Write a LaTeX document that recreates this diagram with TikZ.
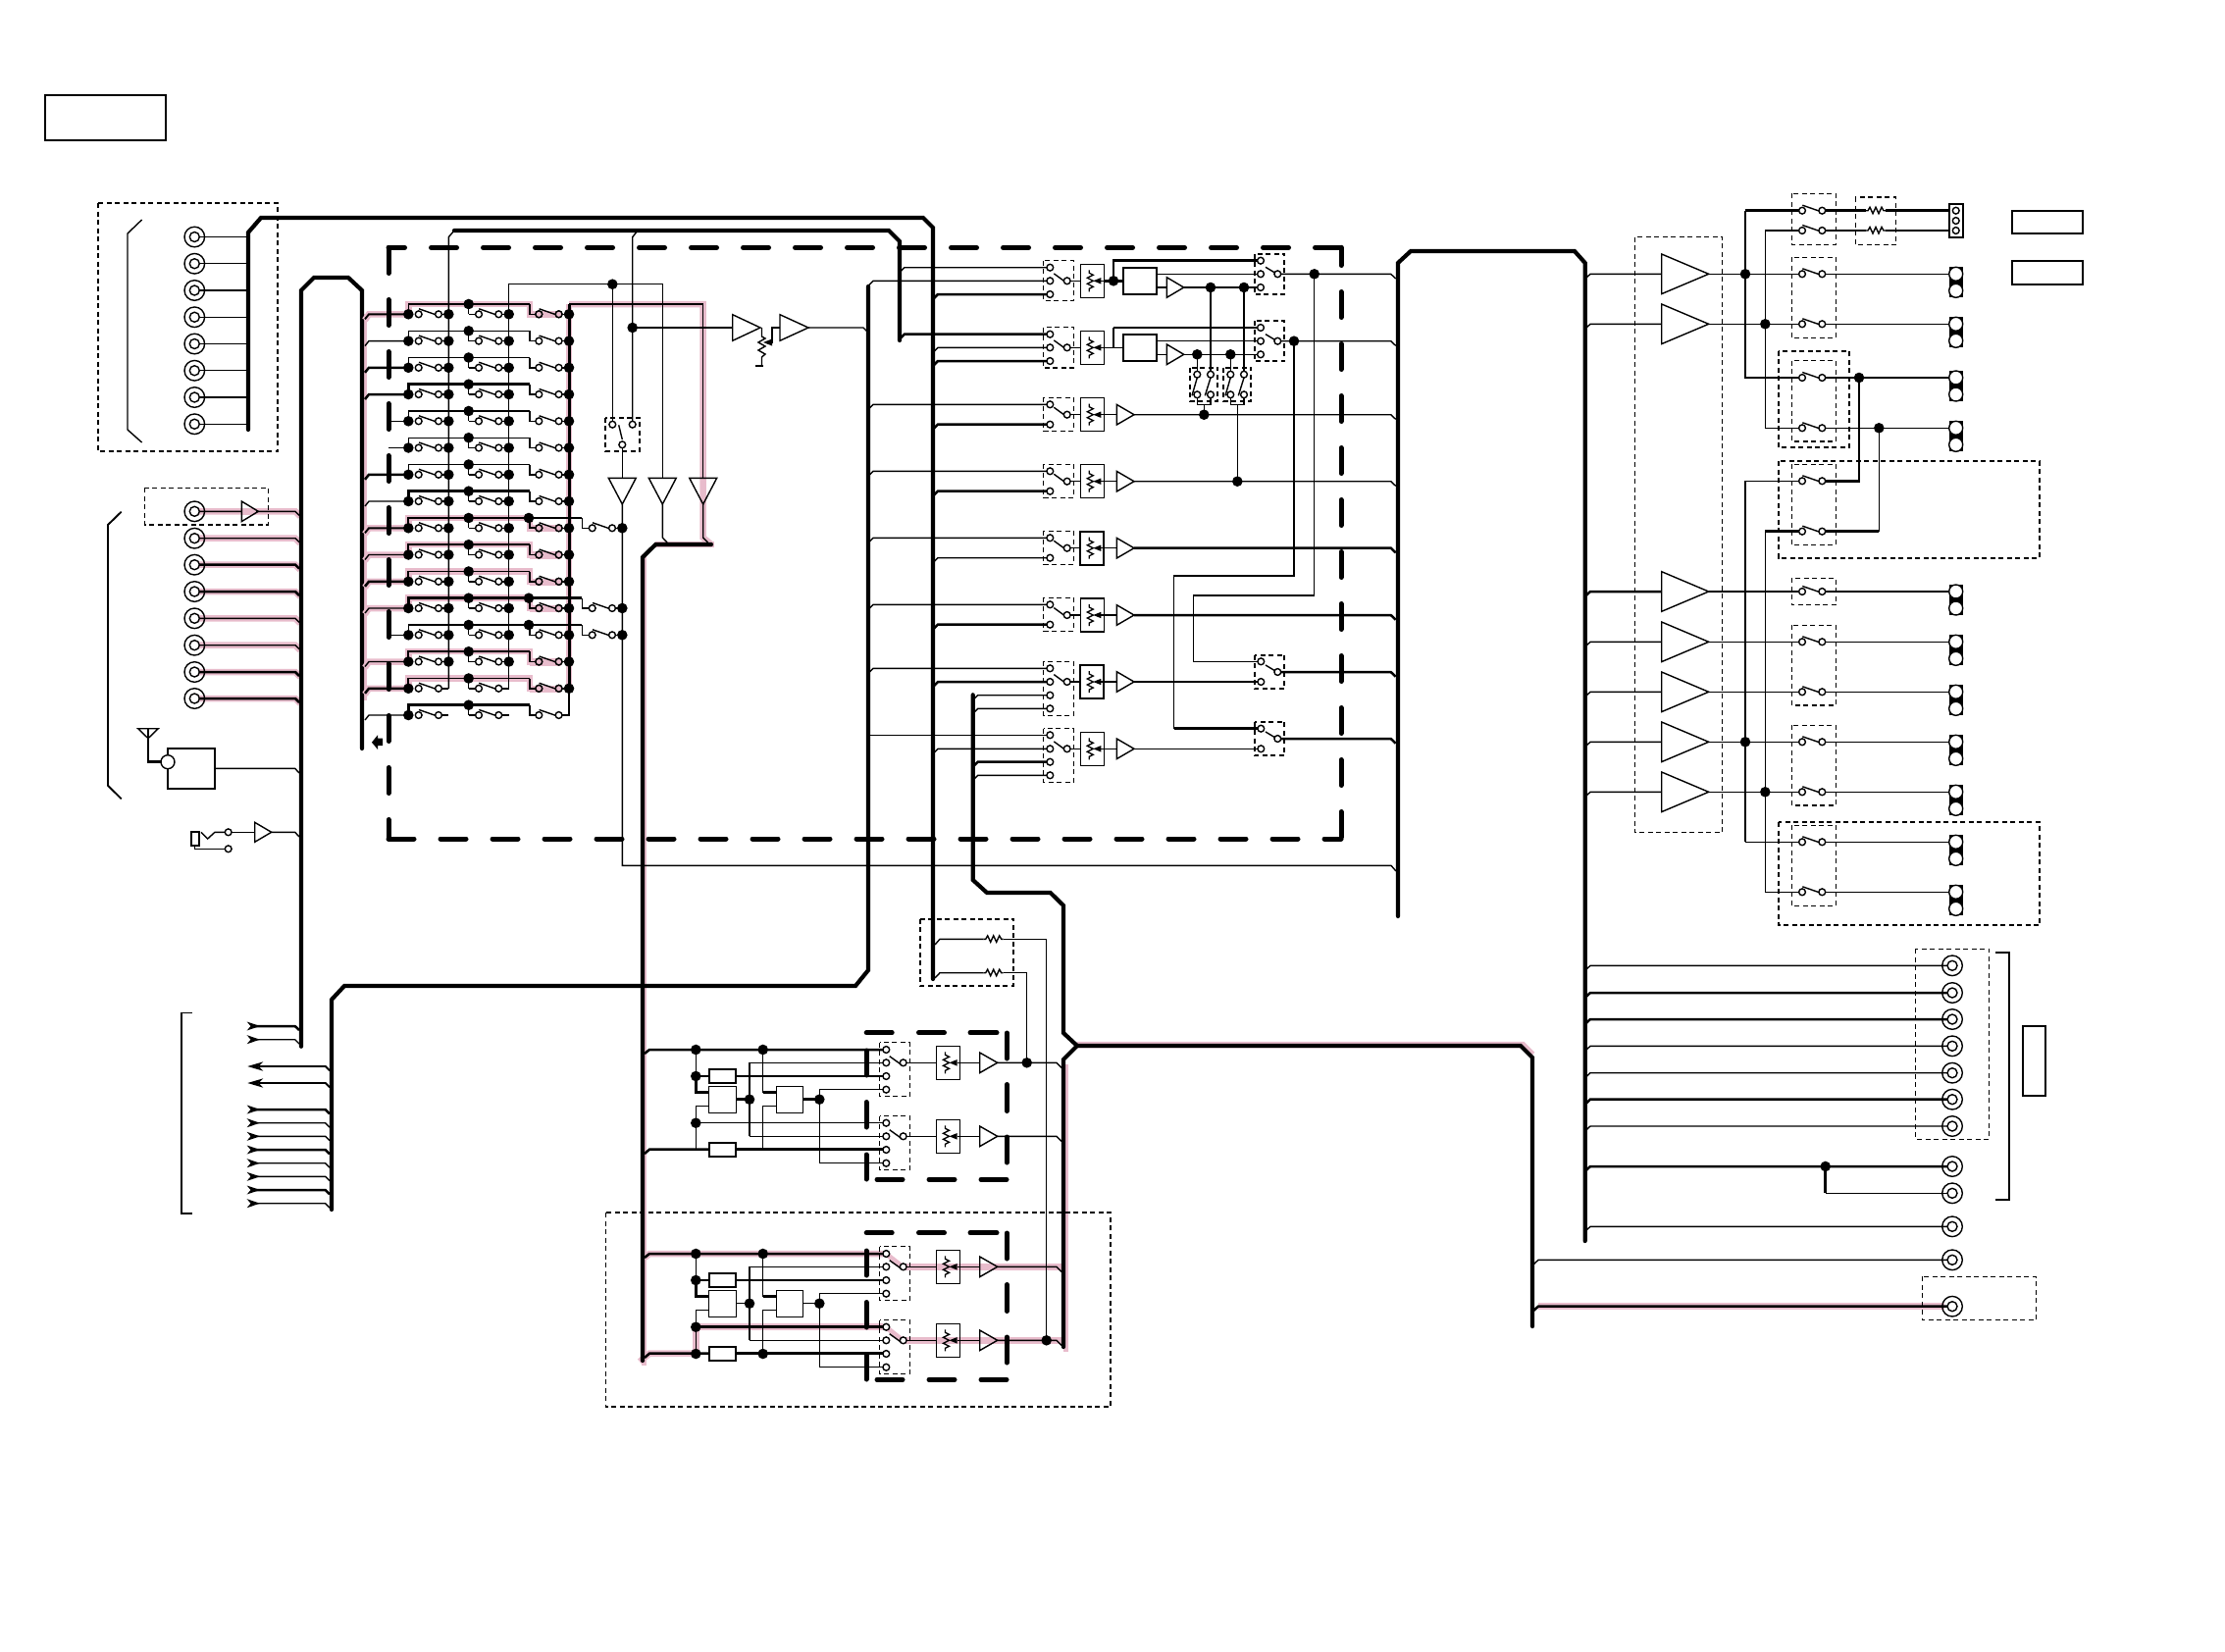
\documentclass[tikz,border=0pt]{standalone}
\definecolor{pk}{RGB}{232,188,204}
\tikzset{
 tw/.style={line width=1.4pt,line join=miter},
 mw/.style={line width=1.9pt,line join=miter},
 kw/.style={line width=2.5pt,line join=miter},
 buspath/.style={line width=4.2pt,line join=miter,line cap=round},
 heavy/.style={line width=5pt,line cap=round,line join=round},
 pkb/.style={draw=pk,line width=6.5pt,line join=miter},
 dbx/.style={line width=1.3pt,dash pattern=on 5pt off 3.5pt},
 dbk/.style={line width=1.7pt,dash pattern=on 5pt off 3.5pt}
}
\newcommand\oc[2]{\draw[tw,fill=white] (#1,#2) circle (3.4pt);}
\newcommand\ocp[2]{\draw[tw,fill=pk] (#1,#2) circle (3.4pt);}
\newcommand\dt[2]{\fill (#1,#2) circle (5.3pt);}
\newcommand\jack[2]{\draw[tw] (#1,#2) circle (10.3pt);\draw[tw,fill=white] (#1,#2) circle (5pt);}
\newcommand\sw[2]{\draw[tw] (#1,#2) ++(0.3,-5.5) -- ++(16.7,5.8);\oc{#1}{#2}\oc{#1+20.3}{#2}}
\newcommand\com[2]{\draw[tw] (#1,#2) ++(-13.4,-7.4) -- ++(10.7,7.8);\oc{#1}{#2}}
\newcommand\rtri[4]{\draw[tw] (#1,{#3-#4})--(#1,{#3+#4})--(#2,#3)--cycle;}
\newcommand\dtri[3]{\draw[tw] ({#1-14},#2)--({#1+14},#2)--(#1,#3)--cycle;}
\newcommand\pot[3][1.5pt]{\begin{scope}[shift={(#2,#3)}]\draw[line width=#1] (-12,-17) rectangle (12,17);\draw[line width=1.3pt] (-3,-11)--(-3,-8)--(1,-6)--(-5,-3)--(1,0)--(-5,3)--(1,6)--(-3,8)--(-3,11);\fill (1,0)--(9,-3.2)--(9,3.2)--cycle;\draw[tw] (9,0)--(12,0);\end{scope}}
\newcommand\res[2]{\draw[tw] (#1,#2)--++(2,0)--++(2,-3.5)--++(3,6.5)--++(3,-6.5)--++(3,6.5)--++(3,-6.5)--++(2,3.5)--++(2,0);}
\newcommand\stubr[4]{\draw[#3] (#1,{#2+5})--({#1+5},#2)--(#4,#2);}
\newcommand\conn[1]{\fill ({1986.7},{#1-7}) rectangle (2000.7,{#1+24});\draw[tw,fill=white] (1993.7,#1) circle (7pt);\draw[tw,fill=white] (1993.7,{#1+17}) circle (7pt);}
\newcommand\arr[1]{\fill (251.7,{#1-4.5})--(265,#1)--(251.7,{#1+4.5})--(255.5,#1)--cycle;}
\newcommand\arl[1]{\fill (252.3,#1)--(268.3,{#1-4.7})--(263.5,#1)--(268.3,{#1+4.7})--cycle;}
\newcommand\hseg[3]{\draw[heavy] (#1,#3)--(#2,#3);}
\newcommand\vseg[3]{\draw[heavy] (#3,#1)--(#3,#2);}
% lower mixer block: #1 dy, #2 style of outputs, #3 style of fourth row
\newcommand\lowb[3]{\begin{scope}[shift={(0,#1)}]
 \draw[kw] (657,1074)--(662,1070)--(899.9,1070);
 \draw[tw] (709.3,1070)--(709.3,1097);
 \draw[kw] (709.3,1097)--(722.7,1097);
 \draw[kw] (750.3,1097)--(899.9,1097);
 \draw[kw] (709.3,1097)--(709.3,1113.7)--(722.7,1113.7);
 \draw[tw] (722.7,1127.3)--(709.3,1127.3)--(709.3,1171.7);
 \draw[#3] (709.3,1144.7)--(899.9,1144.7);
 \draw[kw] (657,1176)--(662,1171.7)--(722.7,1171.7);
 \draw[kw] (750.3,1171.7)--(899.9,1171.7);
 \draw[#2] (750.3,1120.7)--(764,1120.7);
 \draw[kw] (764,1083.3)--(764,1158.3);
 \draw[tw] (899.9,1083.3)--(764,1083.3);\draw[tw] (899.9,1158.3)--(764,1158.3);
 \draw[tw] (777.7,1070)--(777.7,1113.7);\draw[kw] (777.7,1113.7)--(791.3,1113.7);
 \draw[tw] (791.3,1127.3)--(777.7,1127.3)--(777.7,1171.7);
 \draw[#2] (818.3,1120.7)--(835.3,1120.7);
 \draw[tw] (899.9,1110.7)--(835.3,1110.7)--(835.3,1185.7)--(899.9,1185.7);
 \draw[line width=1.9pt,fill=white] (722.7,1090) rectangle (750.3,1104);
 \draw[line width=1.9pt,fill=white] (722.7,1165.3) rectangle (750.3,1179.3);
 \draw[line width=1.5pt,fill=white] (722.7,1107.3) rectangle (750.3,1134.3);
 \draw[line width=1.5pt,fill=white] (791.3,1107.3) rectangle (818.3,1134.3);
 \dt{709.3}{1070}\dt{777.7}{1070}\dt{709.3}{1097}\dt{709.3}{1144.7}\dt{764}{1120.7}\dt{835.3}{1120.7}
 \draw[dbx] (896.7,1062.7) rectangle (927.3,1117.3);
 \draw[dbx] (896.7,1137.7) rectangle (927.3,1192.7);
 \foreach \q in {1070,1083.3,1097,1110.7,1144.7,1158.3,1172,1185.7}{\oc{903.3}{\q}}
 \foreach \q in {1083.3,1158.3}{
  \draw[tw] (924.1,\q)--(954.5,\q);
  \draw[tw] (978.5,\q)--(998.7,\q);
  \pot{966.5}{\q}
  \rtri{998.7}{1016.7}{\q}{10.3}
  \draw[tw] (1016.7,\q)--(1077,\q)--(1082,{\q+5});
  \draw[tw] (906.7,{\q-6.6})--(918.3,{\q+1.7});\oc{920.7}{\q}
 }
\end{scope}}
\begin{document}
\begin{tikzpicture}[x=1pt,y=-1pt]
\useasboundingbox (0,0) rectangle (2268,1684);
\fill[white] (0,0) rectangle (2268,1684);
%% ---------- pink underlay
\foreach \q in {521.3,548.7,575.7,603,630.3,657.7,685,712}{\draw[pkb] (200,\q)--(301,\q)--(306,{\q+5});}
\draw[pkb] (371,320)--(371,714);
\draw[pkb] (580,310)--(580,702);
\draw[pkb] (580,310)--(716.7,310)--(716.7,548)--(725,555);
\draw[pkb] (668,555)--(728,555);
\draw[pk,line width=4.5pt] (656.5,565)--(656.5,1392);
\draw[pk,line width=5pt] (1086,1085)--(1086,1378);
\draw[pkb] (1098,1065)--(1552,1065)--(1562,1075);
\draw[pkb] (1568,1331.7)--(1982,1331.7);
\begin{scope}[shift={(0,208)}]
 \draw[pkb] (657,1074)--(662,1070)--(900,1070);
 \draw[pkb] (922,1083.3)--(1082,1083.3);
 \draw[pkb] (709.3,1144.7)--(900,1144.7);
 \draw[pkb] (709.3,1144.7)--(709.3,1171.7);
 \draw[pkb] (652,1180)--(662,1171.7)--(709.3,1171.7);
 \draw[pkb] (922,1158.3)--(1084,1158.3);
 \draw[pk,line width=5pt] (903,1070)--(920,1083.3);
 \draw[pk,line width=5pt] (903,1144.7)--(920,1158.3);
\end{scope}
%% ---------- buses
\draw[buspath] (253,438)--(253,237)--(266,222)--(941,222)--(951,232)--(951,998);
\draw[buspath] (463,235)--(906,235)--(917,246)--(917,347);
\draw[buspath] (307,1066.7)--(307,296)--(320,283)--(355,283)--(369,296)--(369,763);
\draw[buspath] (885,292)--(885,989)--(872,1005)--(351,1005)--(338,1019)--(338,1233);
\draw[buspath] (725,555)--(668.3,555)--(655,568)--(655,1387);
\draw[buspath] (991.7,708.3)--(991.7,897)--(1006,910)--(1070.7,910)--(1084,923)--(1084,1053)--(1098,1066)--(1084,1080)--(1084,1373);
\draw[buspath] (1098,1066)--(1550,1066)--(1562,1078)--(1562,1352);
\draw[buspath] (1425,934)--(1425,268)--(1438,256)--(1605,256)--(1615.7,268)--(1615.7,1265);
%% ---------- left frame items
\draw[line width=1.5pt] (46,97) rectangle (169,143);
\draw[dbx] (100,207) rectangle (283,460);
\draw[tw] (144.6,224)--(130,238)--(130,438)--(144.6,451);
\foreach \i in {0,...,7}{\draw[tw] (198,{241.5+27.25*\i})--(253,{241.5+27.25*\i});\jack{198.3}{241.5+27.25*\i}}
\draw[mw] (123.7,521.7)--(110,535)--(110,800.7)--(123.7,814.3);
\foreach \q/\w in {521.3/tw,548.7/tw,575.7/kw,603/kw,630.3/tw,657.7/tw,685/kw,712/kw}{\draw[\w] (198,\q)--(301,\q)--(305,{\q+4});\jack{198.3}{\q}}
\draw[pk,line width=6.5pt] (247,521.3)--(261,521.3);
\rtri{246.3}{263.3}{521.3}{10.3}
\draw[dbx] (147.3,497.3) rectangle (273.3,535);
% antenna and receiver
\draw[tw] (140.7,742.7)--(161.3,742.7)--(151,752.7)--cycle;
\draw[kw] (151,742.7)--(151,776.7)--(165,776.7);
\draw[line width=1.8pt] (171.3,763.3) rectangle (219.3,804);
\draw[tw,fill=white] (171,776.7) circle (7pt);
\draw[tw] (219.3,783.3)--(300.7,783.3)--(305,788);
% mic jack
\draw[line width=1.7pt] (194.7,848.3) rectangle (202.7,861.7);
\draw[tw] (205,848.3)--(211.7,855)--(219,848.3)--(229.3,848.3);
\draw[tw] (198.3,861.7)--(198.3,865.3)--(229.3,865.3);
\oc{232.7}{848.3}\oc{232.7}{865.3}
\draw[tw] (236,848.3)--(259.7,848.3);
\rtri{259.7}{276.7}{848.3}{10}
\draw[tw] (276.7,848.3)--(300.7,848.3)--(305,853);
% arrows bottom left
\draw[line width=1.6pt] (195.7,1032.3)--(185,1032.3)--(185,1236.7)--(195.7,1236.7);
\draw[kw] (260,1046)--(300.7,1046)--(305,1050);
\draw[tw] (260,1059.7)--(300.7,1059.7)--(305,1064);
\arr{1046}\arr{1059.7}
\foreach \q in {1087,1104}{\draw[mw] (264,\q)--(331.7,\q)--(336,{\q+4.3});\arl{\q}}
\foreach \q/\w in {1131/kw,1144.7/tw,1158.3/tw,1172/kw,1185.7/tw,1199.3/tw,1213/kw,1226.7/tw}{\draw[\w] (260,\q)--(331.7,\q)--(336,{\q+4.3});\arr{\q}}
%% ---------- matrix
\foreach \y/\st/\w/\p/\u/\ex/\ds in {
 320.3/1/mw/1/tw/0/3,347.6/1/tw/0/tw/0/3,374.8/1/kw/0/tw/0/3,402/1/kw/0/kw/0/3,
 429.3/0/tw/0/tw/0/3,456.5/0/tw/0/tw/0/3,483.8/1/kw/0/tw/0/3,511/1/tw/0/kw/0/3,
 538.3/1/mw/1/mw/1/3,565.5/1/tw/1/mw/0/3,592.8/1/kw/1/mw/0/3,620/1/tw/1/kw/1/3,
 647.3/0/tw/0/tw/1/3,674.5/1/tw/1/mw/0/3,701.8/1/kw/1/mw/0/1,729/1/tw/0/kw/0/0}{
 \begin{scope}[shift={(0,\y)}]
  \ifnum\p=1
   \draw[pkb] (372,6)--(376,0)--(416.3,0);
   \draw[pkb] (416.3,0)--(416.3,-10.3)--(540,-10.3)--(540,0)--(570,0);
   \fill[pk] (540,-3) rectangle (572,4);
  \fi
  \ifnum\st=1
   \draw[\w] (372,5)--(376,0)--(416.3,0);
  \else
   \draw[\w] (396,0)--(416.3,0);
  \fi
  \draw[\u] (416.3,0)--(416.3,-10.3)--(540,-10.3);
  \draw[\u] (540,-10.3)--(540,0)--(549.3,0);
  \draw[tw] (477.7,-10.3)--(477.7,0);
  \draw[tw] (477.7,0)--(488,0);
  \ifnum\ex=1
   \draw[\u] (539,-10.3)--(593.3,-10.3);
   \draw[tw] (593.3,-10.3)--(593.3,0)--(603.7,0);
   \draw[tw] (624,0)--(634.3,0);
   \sw{603.7}{0}\dt{634.3}{0}\dt{539}{-10.3}
  \fi
  \draw[tw] (447,0)--(457.3,0);
  \draw[tw] (508.3,0)--(518.7,0);
  \draw[tw] (569.7,0)--(580,0);
  \dt{416.3}{0}\dt{477.7}{-10.3}
  \ifnum\ds>1 \dt{457.3}{0}\dt{518.7}{0}\fi
  \ifnum\ds>0 \dt{580}{0}\fi
  \sw{426.7}{0}\sw{488}{0}\sw{549.3}{0}
  \ifnum\p=1 \ocp{549.3}{0}\ocp{569.6}{0}\fi
 \end{scope}
}
\draw[tw] (457.3,701.8)--(457.3,241.7)--(463,235);
\draw[tw] (518.7,701.8)--(518.7,289.7)--(675.3,289.7)--(675.3,487.3);
\draw[mw] (580,310)--(716.7,310);\draw[tw] (716.7,310)--(716.7,487.3);
\draw[line width=3pt] (580,310)--(580,702);
\draw[tw] (580,702)--(580,729)--(573,729);
\draw[tw] (624.3,289.7)--(624.3,429.3);
\draw[tw] (644.7,429.3)--(644.7,241.7)--(650,235);
\draw[kw] (644.7,334)--(746.7,334);
\draw[tw] (675.3,514)--(675.3,548)--(680,553);
\draw[tw] (716.7,514)--(716.7,548)--(721.7,553);
\draw[tw] (634.3,456.7)--(634.3,487.3);
\draw[tw] (634.3,514)--(634.3,882.3)--(1418,882.3)--(1423,888);
\dt{624.3}{289.7}\dt{644.7}{334}
\draw[dbk] (617.3,425.7) rectangle (651.7,460);
\oc{624.3}{432.7}\oc{644.7}{432.7}\oc{634.3}{453.3}
\draw[tw] (630.7,433.3)--(634.3,448);
\dtri{634.3}{487.3}{514}\dtri{675.3}{487.3}{514}\dtri{716.7}{487.3}{514}
\fill (379,756.7)--(385,749.3)--(385,752.5)--(390,752.5)--(390,760)--(385,760)--(385,764)--cycle;
% amp - volume - amp
\rtri{746.7}{775}{334}{13.3}
\rtri{795}{824}{334}{13.3}
\draw[tw] (776.5,334)--(776.5,343)--(780,345)--(773,349)--(780,353)--(773,357)--(780,361)--(776.5,364)--(776.5,373);
\draw[kw] (770,373)--(778,373);
\draw[tw] (795,334)--(787,334)--(787,349)--(785,349);
\fill (778,349)--(787,345.5)--(787,352.5)--cycle;
\draw[tw] (824,334)--(880,334)--(885,339);
%% ---------- heavy dashed frame
\draw[heavy,dash pattern=on 26pt off 27pt,dash phase=9.5pt] (396,252.3)--(1367,252.3);
\draw[heavy,dash pattern=on 26pt off 27pt,dash phase=7.8pt] (1367,252.3)--(1367,855);
\draw[heavy,dash pattern=on 26pt off 27pt,dash phase=9pt] (1367,855)--(396,855);
\draw[heavy,dash pattern=on 26pt off 27pt,dash phase=6.5pt] (396,855)--(396,252.3);
%% ---------- channel strips
\stubr{917}{272.7}{tw}{1067}\stubr{885}{286.3}{tw}{1067}\stubr{951}{300}{kw}{1067}
\stubr{917}{340.7}{kw}{1067}\stubr{951}{354.3}{tw}{1067}\stubr{951}{368}{kw}{1067}
\stubr{885}{412.3}{tw}{1067}\stubr{951}{432.7}{kw}{1067}
\stubr{885}{480.3}{tw}{1067}\stubr{951}{500.7}{kw}{1067}
\stubr{885}{548.3}{tw}{1067}\stubr{951}{568.7}{tw}{1067}
\stubr{885}{616.3}{tw}{1067}\stubr{951}{636.7}{kw}{1067}
\stubr{885}{681.3}{tw}{1067}\stubr{951}{695}{kw}{1067}\stubr{991.7}{708.7}{tw}{1067}\stubr{991.7}{722.3}{tw}{1067}
\draw[tw] (885,749.3)--(1067,749.3);
\stubr{951}{763.3}{tw}{1067}\stubr{991.7}{776.7}{kw}{1067}\stubr{991.7}{790.3}{tw}{1067}
\foreach \a/\b in {265.7/306.3,333.7/375,405.3/439.3,473.3/507.3,541.3/575.3,609.3/643.3,674.3/729.3,742.7/797.3}{\draw[dbx] (1063.7,\a) rectangle (1094.3,\b);}
\foreach \q in {272.7,286.3,300,340.7,354.3,368,412.3,432.7,480.3,500.7,548.3,568.7,616.3,636.7,681.3,695,708.7,722.3,749.3,763.3,776.7,790.3}{\oc{1070.3}{\q}}
\foreach \q/\pw in {286.3/1.5pt,354.3/1.5pt,422.7/1.5pt,490.7/1.5pt,558.7/2.3pt,627/1.5pt,695/2.3pt,763.3/1.5pt}{
 \draw[tw] (1091,\q)--(1101.3,\q);
 \com{1087.7}{\q}
 \pot[\pw]{1113.3}{\q}
}
% strips 1 and 2
\draw[kw] (1125.3,286.3)--(1145.3,286.3);
\draw[kw] (1135,286.3)--(1135,265.7)--(1281.6,265.7);
\draw[tw] (1179.3,279.3)--(1281.6,279.3);
\draw[kw] (1179.3,293)--(1189.3,293);
\draw[kw] (1206.7,293)--(1281.6,293);
\draw[kw] (1234,293)--(1234,378.3);
\draw[kw] (1268,293)--(1268,378.3);
\draw[line width=1.7pt] (1145.3,272.7) rectangle (1179.3,300);
\rtri{1189.3}{1206.7}{293}{10.3}
\dt{1135}{286.3}\dt{1234}{293}\dt{1268}{293}
\draw[tw] (1125.3,354.3)--(1145.3,354.3);
\draw[tw] (1135,354.3)--(1135,334);
\draw[kw] (1135,334)--(1281.6,334);
\draw[tw] (1179.3,347.3)--(1281.6,347.3);
\draw[tw] (1179.3,361.3)--(1189.3,361.3);
\draw[tw] (1206.7,361.3)--(1281.6,361.3);
\draw[tw] (1220.3,361.3)--(1220.3,378.3);
\draw[tw] (1254.3,361.3)--(1254.3,378.3);
\draw[line width=2pt,fill=white] (1145.3,340.7) rectangle (1179.3,368);
\rtri{1189.3}{1206.7}{361.3}{10.3}
\dt{1220.3}{361.3}\dt{1254.3}{361.3}
% dual relays
\draw[dbk] (1213.3,374.7) rectangle (1241.3,409.3);
\draw[dbk] (1247.3,374.7) rectangle (1275.3,409.3);
\foreach \a/\b in {1220.3/1234,1254.3/1268}{
 \draw[tw] (\a,405.7)--(\a,412.3)--(\b,412.3)--(\b,405.7);
 \oc{\a}{381.7}\oc{\b}{381.7}\oc{\a}{402.3}\oc{\b}{402.3}
 \draw[tw] (\a,385)--({\a-5.3},403.3);
 \draw[tw] (\b,385)--({\b-5.7},403.3);
}
\draw[tw] (1227.3,412.3)--(1227.3,422.7);
\draw[tw] (1261.3,412.3)--(1261.3,490.7);
% outputs
\foreach \a/\b in {258.7/300,327.3/368.3}{\draw[dbk] (1278.7,\a) rectangle (1309.3,\b);}
\foreach \q in {265.7,279.3,293,334,347.7,361.3}{\oc{1285}{\q}}
\foreach \q in {279.3,347.7}{\draw[tw] (1305.7,\q)--(1417.7,\q)--(1422.7,{\q+4.7});
 \draw[tw] (1290,{\q-7})--(1300,{\q-1});\oc{1302.3}{\q}}
\draw[tw] (1339.7,279.3)--(1339.7,607)--(1216.7,607)--(1216.7,674.3)--(1282,674.3);
\draw[tw] (1319,347.7)--(1319,587)--(1196.7,587)--(1196.7,742.7);
\draw[kw] (1196.7,742.7)--(1282,742.7);
\dt{1339.7}{279.3}\dt{1319}{347.7}
\foreach \q/\w/\e in {422.7/tw/1417.7,490.7/tw/1417.7,558.7/kw/1417.7,627/kw/1417.7}{
 \draw[tw] (1125.3,\q)--(1138.3,\q);
 \rtri{1138.3}{1156}{\q}{10.3}
 \draw[\w] (1156,\q)--(\e,\q)--({\e+5},{\q+4.7});
}
\dt{1227.3}{422.7}\dt{1261.3}{490.7}
\draw[tw] (1125.3,695)--(1138.3,695);\rtri{1138.3}{1156}{695}{10.3}\draw[kw] (1156,695)--(1282,695);
\draw[tw] (1125.3,763.3)--(1138.3,763.3);\rtri{1138.3}{1156}{763.3}{10.3}\draw[tw] (1156,763.3)--(1282,763.3);
\draw[dbk] (1278.7,667.7) rectangle (1309.3,702);
\draw[dbk] (1278.7,735.7) rectangle (1309.3,770);
\foreach \q in {674.3,695,742.7,763.3}{\oc{1285.3}{\q}}
\foreach \q in {685,753}{\draw[kw] (1305.7,\q)--(1417.7,\q)--(1422.7,{\q+4.7});
 \draw[tw] (1290,{\q-7})--(1300,{\q-1});\oc{1302.3}{\q}}
%% ---------- resistors and feeds of mixers
\draw[dbk] (937.7,936.7) rectangle (1033.3,1005);
\draw[tw] (953,963)--(958,957.3)--(1002.7,957.3);
\draw[tw] (953,997)--(958,991.7)--(1002.7,991.7);
\res{1002.7}{957.3}\res{1002.7}{991.7}
\draw[tw] (1022.7,957.3)--(1066.7,957.3)--(1066.7,1366.3);
\draw[tw] (1022.7,991.7)--(1046.7,991.7)--(1046.7,1083.3);
%% ---------- mixer blocks
\lowb{0}{kw}{tw}
\lowb{208}{tw}{kw}
\dt{1046.7}{1083.3}\dt{1066.7}{1366.3}
\dt{709.3}{1380}\dt{777.7}{1380}
\draw[dbx] (617.4,1236) rectangle (1132,1434);
\foreach \d in {0,204}{\begin{scope}[shift={(0,\d)}]
 \hseg{883.2}{909.2}{1052.7}\hseg{936.5}{962.5}{1052.7}\hseg{989}{1016}{1052.7}
 \vseg{1053}{1079}{1026.3}\vseg{1105.5}{1132.5}{1026.3}\vseg{1159}{1185}{1026.3}
 \hseg{894}{920}{1202.3}\hseg{947}{973}{1202.3}\hseg{1000}{1026}{1202.3}
 \vseg{1071}{1096}{883}\vseg{1123.5}{1149}{883}\vseg{1177}{1202}{883}
\end{scope}}
%% ---------- right amps and relays
\draw[dbx] (1666.3,241.5) rectangle (1755.7,848.7);
\foreach \q/\w in {279.3/tw,330.3/tw,603/kw,654.3/tw,705.3/tw,756.3/tw,807.3/tw}{
 \draw[\w] (1615.7,{\q+5})--(1621,\q)--(1693.7,\q);
 \rtri{1693.7}{1741.7}{\q}{20.3}
 \draw[\w] (1741.7,\q)--(1833.6,\q);
 \draw[\w] (1860.7,\q)--(1986.7,\q);
}
\draw[kw] (1779,214.7)--(1779,385)--(1833.6,385);
\draw[kw] (1779,214.7)--(1833.6,214.7);
\draw[tw] (1799.3,235)--(1799.3,436.3)--(1833.6,436.3);
\draw[tw] (1799.3,235)--(1833.6,235);
\draw[kw] (1860.7,214.7)--(1902,214.7);\draw[kw] (1922,214.7)--(1986.7,214.7);
\draw[tw] (1860.7,235)--(1902,235);\draw[tw] (1922,235)--(1986.7,235);
\res{1902}{214.7}\res{1902}{235}
\draw[kw] (1860.7,385)--(1986.7,385);
\draw[tw] (1860.7,436.3)--(1986.7,436.3);
\draw[tw] (1779,490.3)--(1833.6,490.3);
\draw[kw] (1860.7,490.3)--(1895,490.3)--(1895,385);
\draw[kw] (1799.3,541.7)--(1833.6,541.7);
\draw[kw] (1860.7,541.7)--(1915.3,541.7);\draw[tw] (1915.3,541.7)--(1915.3,436.3);
\draw[kw] (1779,490.3)--(1779,858.3);\draw[tw] (1779,858.3)--(1833.6,858.3);
\draw[tw] (1799.3,541.7)--(1799.3,909.3)--(1833.6,909.3);
\draw[tw] (1860.7,858.3)--(1986.7,858.3);
\draw[tw] (1860.7,909.3)--(1986.7,909.3);
\dt{1779}{279.3}\dt{1799.3}{330.3}\dt{1895}{385}\dt{1915.3}{436.3}\dt{1779}{756.3}\dt{1799.3}{807.3}
\foreach \q in {214.7,235,279.3,330.3,385,436.3,490.3,541.7,603,654.3,705.3,756.3,807.3,858.3,909.3}{\sw{1837}{\q}}
\foreach \q in {279.3,330.3,385,436.3,603,654.3,705.3,756.3,807.3,858.3,909.3}{\conn{\q}}
\draw[line width=2pt,fill=white] (1986.7,207.7) rectangle (2000.7,242.3);
\oc{1993.7}{214.7}\oc{1993.7}{225}\oc{1993.7}{235}
\foreach \a/\b in {197.3/249.3,262.3/344.3,367.7/450,473.3/555.3,589.3/616.7,637.3/719,739.3/821,841.3/923.3}{\draw[dbx] (1826.3,\a) rectangle (1871.3,\b);}
\draw[dbx] (1891.3,201) rectangle (1932.7,249.3);
\draw[dbk] (1812.7,357.7) rectangle (1884.7,456.3);
\draw[dbk] (1812.7,470.3) rectangle (2079.3,568.7);
\draw[dbk] (1812.7,838.3) rectangle (2079.3,943.3);
\draw[line width=1.8pt] (2051.3,214.7) rectangle (2123.3,238.3);
\draw[line width=1.8pt] (2051.3,266) rectangle (2123.3,289.7);
%% ---------- right jacks
\foreach \q/\w in {984.3/tw,1012/kw,1039/kw,1066.3/tw,1093.7/tw,1120.7/kw,1148/tw,1189/kw,1250.3/tw}{
 \draw[\w] (1615.7,{\q+5})--(1621,\q)--(1990,\q);
 \jack{1990}{\q}
}
\draw[kw] (1860.7,1189)--(1860.7,1216.3);
\draw[tw] (1860.7,1216.3)--(1990,1216.3);\jack{1990}{1216.3}
\dt{1860.7}{1189}
\draw[tw] (1562,1290)--(1568,1284.3)--(1990,1284.3);\jack{1990}{1284.3}
\draw[kw] (1562,1337)--(1568,1331.7)--(1990,1331.7);\jack{1990}{1331.7}
\draw[dbx] (1952.7,967.3) rectangle (2027.7,1161.3);
\draw[dbx] (1959.3,1301.3) rectangle (2075.7,1345.7);
\draw[line width=1.7pt] (2034.3,970.7)--(2048.3,970.7)--(2048.3,1223)--(2034.3,1223);
\draw[line width=1.7pt] (2062,1046) rectangle (2085.3,1117);
\end{tikzpicture}
\end{document}
